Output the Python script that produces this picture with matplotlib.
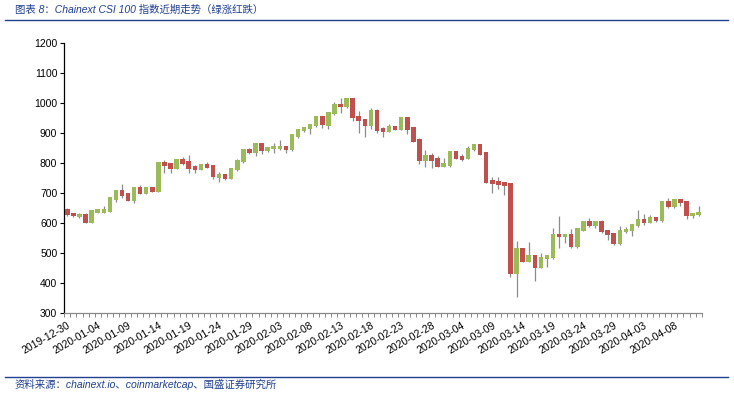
import numpy as np
import pandas as pd
import matplotlib
matplotlib.use("Agg")
import matplotlib.pyplot as plt
from matplotlib.lines import Line2D

# 日线 OHLC, 2019-12-30 起
dates = pd.date_range("2019-12-30", periods=105, freq="D")
opens = [647, 634, 620, 631, 602, 635, 635, 639, 679, 710, 700, 676, 720, 699, 720,
         706, 803, 800, 782, 813, 807, 792, 779, 797, 793, 752, 763, 749, 777, 803,
         847, 833, 867, 840, 847, 847, 857, 843, 889, 907, 913, 923, 957, 926, 963,
         998, 987, 1017, 957, 947, 926, 977, 918, 906, 923, 912, 953, 920, 881, 809,
         827, 818, 789, 791, 840, 826, 816, 843, 863, 837, 744, 741, 737, 733, 432,
         517, 472, 493, 452, 480, 484, 563, 553, 563, 520, 576, 607, 590, 607, 577,
         567, 530, 570, 575, 590, 613, 602, 620, 607, 673, 653, 680, 673, 623, 627]
highs = [650, 636, 634, 633, 645, 649, 658, 689, 712, 731, 702, 722, 728, 722, 722,
         805, 810, 802, 815, 820, 828, 794, 799, 803, 795, 772, 765, 785, 816, 849,
         850, 869, 869, 855, 867, 878, 859, 899, 915, 922, 932, 959, 959, 972, 1004,
         1017, 1019, 1019, 974, 949, 983, 982, 920, 930, 925, 955, 955, 922, 883, 844,
         833, 823, 819, 842, 842, 830, 858, 865, 865, 839, 755, 755, 739, 735, 541,
         519, 538, 495, 500, 495, 584, 624, 565, 580, 585, 609, 617, 609, 612, 579,
         569, 590, 588, 599, 643, 630, 627, 622, 675, 683, 682, 682, 675, 636, 657]
lows = [624, 621, 618, 600, 600, 633, 633, 637, 672, 685, 674, 667, 697, 697, 704,
        704, 769, 769, 780, 793, 767, 767, 777, 784, 749, 739, 745, 747, 775, 801,
        831, 826, 831, 838, 833, 845, 833, 841, 883, 905, 897, 921, 917, 913, 961,
        969, 985, 941, 900, 889, 914, 900, 889, 904, 910, 910, 897, 870, 797, 787,
        783, 787, 787, 789, 814, 809, 814, 841, 827, 734, 702, 715, 693, 420, 355,
        470, 470, 407, 450, 456, 482, 517, 533, 518, 518, 574, 588, 583, 568, 543,
        528, 528, 568, 557, 588, 593, 600, 603, 605, 651, 651, 658, 613, 617, 625]
closes = [627, 623, 631, 602, 643, 647, 647, 687, 710, 692, 676, 720, 699, 720, 706,
          803, 792, 782, 813, 799, 782, 779, 797, 786, 756, 764, 749, 783, 810, 847,
          833, 867, 840, 853, 858, 857, 843, 897, 913, 920, 930, 957, 927, 970, 998,
          987, 1017, 950, 940, 926, 977, 909, 906, 923, 912, 953, 912, 872, 809, 827,
          809, 789, 801, 840, 816, 811, 851, 863, 829, 736, 732, 729, 726, 432, 517,
          472, 494, 452, 487, 493, 563, 553, 563, 520, 583, 607, 590, 607, 570, 560,
          530, 577, 580, 597, 613, 602, 620, 607, 673, 653, 680, 667, 623, 634, 638]

title = "图表 8：Chainext CSI 100 指数近期走势（绿涨红跌）"
source = "资料来源：chainext.io、coinmarketcap、国盛证券研究所"

up_color = "#9bbb59"
down_color = "#c0504d"
wick_color = "#8c8c8c"
blue = "#1f3f8f"

plt.rcParams['font.family'] = ['Liberation Sans', 'Noto Sans CJK SC', 'DejaVu Sans']

o = np.array(opens, dtype=float)
h = np.array(highs, dtype=float)
l = np.array(lows, dtype=float)
c = np.array(closes, dtype=float)
x = np.arange(len(dates))
colors = [up_color if cc >= oo else down_color for oo, cc in zip(o, c)]

fig = plt.figure(figsize=(7.34, 3.94), dpi=100, facecolor="white")
ax = fig.add_axes([64.3 / 734, 1 - 313.3 / 394, 637.4 / 734, 270 / 394])

ax.vlines(x, l, h, color=wick_color, linewidth=0.9, zorder=2)
ax.bar(x, np.abs(c - o), bottom=np.minimum(o, c), width=0.74, color=colors,
       linewidth=0, zorder=3)

ax.set_xlim(-0.5, len(x) - 0.5)
ax.set_ylim(300, 1200)
ax.set_yticks(np.arange(300, 1201, 100))
ax.tick_params(axis='y', direction='out', length=3, width=0.8, labelsize=7.5, pad=2)

label_idx = x[::5]
ax.set_xticks(label_idx)
ax.set_xticklabels([dates[i].strftime("%Y-%m-%d") for i in label_idx], rotation=30,
                   ha='right', va='top', rotation_mode='anchor', fontsize=7.5)
ax.set_xticks(np.arange(-0.5, len(x)), minor=True)
ax.tick_params(axis='x', which='major', length=0, pad=5)
ax.tick_params(axis='x', which='minor', direction='out', length=3, width=0.7,
               color="#888888")

ax.spines['top'].set_visible(False)
ax.spines['right'].set_visible(False)
ax.spines['left'].set_color("black")
ax.spines['left'].set_linewidth(0.9)
ax.spines['bottom'].set_color("#888888")
ax.spines['bottom'].set_linewidth(0.9)

fig.text(15 / 734, 1 - 10 / 394, title, color=blue, fontsize=7.5, style='italic',
         ha='left', va='center')
fig.add_artist(Line2D([5 / 734, 728 / 734], [1 - 20 / 394] * 2, transform=fig.transFigure,
                      color=blue, linewidth=1))
fig.add_artist(Line2D([5 / 734, 728 / 734], [1 - 376.5 / 394] * 2, transform=fig.transFigure,
                      color=blue, linewidth=1))
fig.text(15 / 734, 1 - 384 / 394, source, color=blue, fontsize=7.5, style='italic',
         ha='left', va='center')

fig.savefig("out.png", dpi=100, facecolor="white")
